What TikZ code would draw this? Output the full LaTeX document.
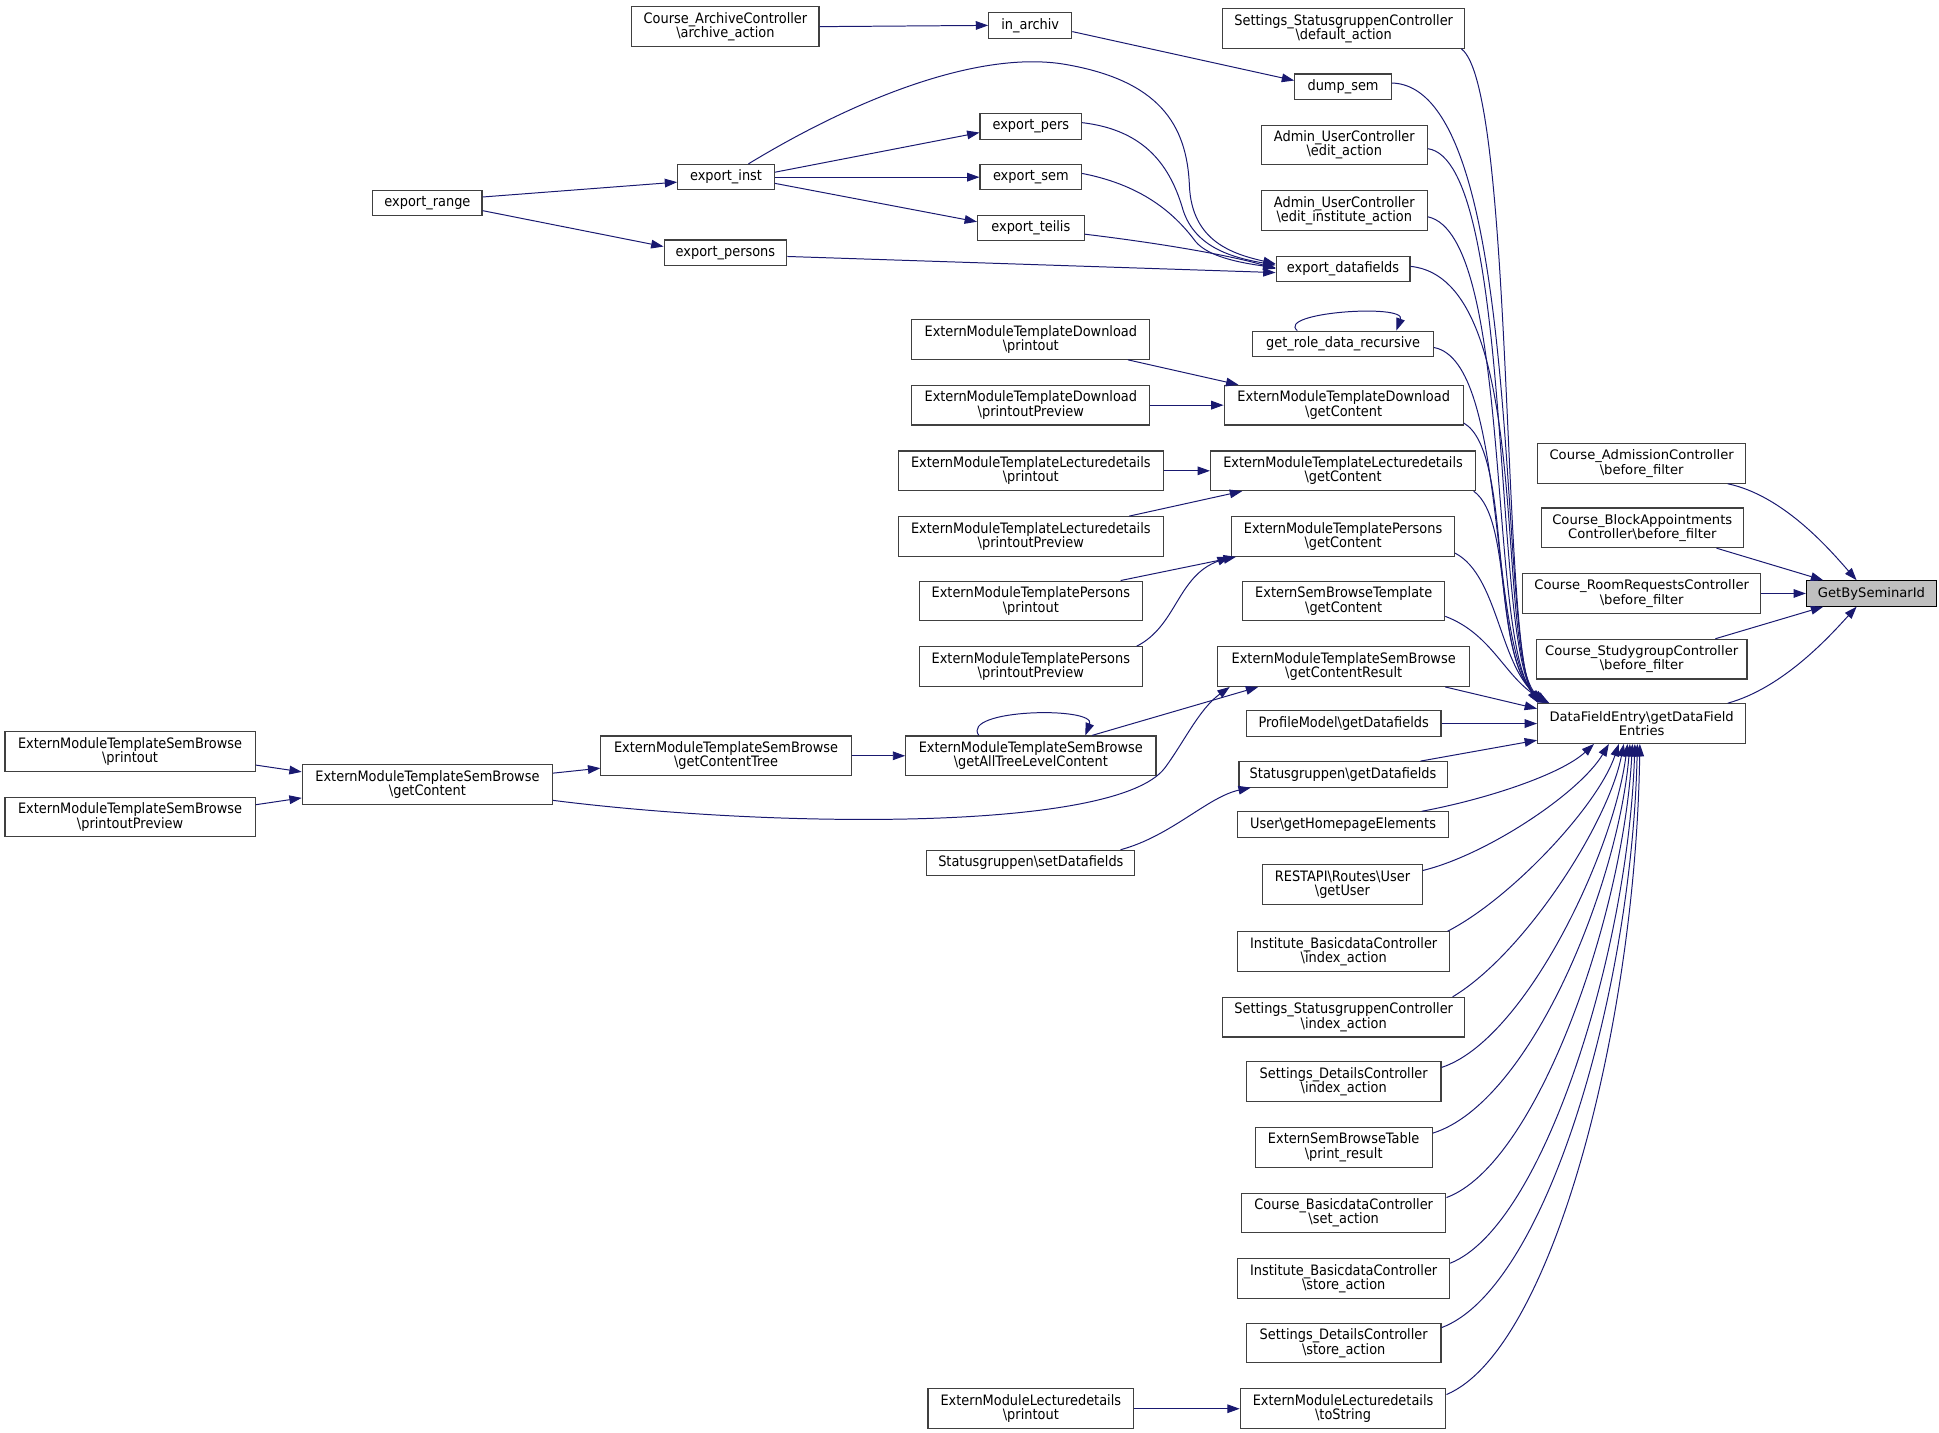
\documentclass[tikz,border=0pt]{standalone}
\usepackage{fontspec}
\newfontfamily\dvcond[FakeStretch=0.9]{DejaVu Sans}
\newfontfamily\dvsans{DejaVu Sans}
\usetikzlibrary{arrows.meta,calc}
\definecolor{edgeblue}{HTML}{191970}
\definecolor{boxgray}{HTML}{BFBFBF}
\tikzset{
every picture/.style={
line width=0.8pt
},
fn/.style={draw=black!75, line width=0.9pt, rectangle, inner sep=0pt, minimum height=20.5,
  align=center, font=\dvcond\fontsize{11.6}{11.6}\selectfont},
fn2/.style={fn, minimum height=32},
fnw/.style={fn2, font=\dvsans\fontsize{10.6}{11.6}\selectfont},
call/.style={draw=edgeblue, -{Triangle[length=10pt,width=7pt]}}
}

\begin{document}
\begin{tikzpicture}[x=1pt,y=-1pt]
  \useasboundingbox (0,0) rectangle (1565,1156);

  % callers, left part
  \node[fn2, minimum width=151] (archive) at (585.5,21.5) {Course\_ArchiveController\\\textbackslash archive\_action};
  \node[fn, minimum width=67] (inarchiv) at (831.5,20.5) {in\_archiv};
  \node[fn, minimum width=82] (exppers) at (832,102) {export\_pers};
  \node[fn, minimum width=78] (expinst) at (586,143) {export\_inst};
  \node[fn, minimum width=88] (exprange) at (345,164) {export\_range};
  \node[fn, minimum width=82] (expsem) at (832,143) {export\_sem};
  \node[fn, minimum width=86] (expteilis) at (832,184) {export\_teilis};
  \node[fn, minimum width=99] (exppersons) at (585.5,204) {export\_persons};
  \node[fn2, minimum width=192] (emtdpr) at (832,274) {ExternModuleTemplateDownload\\\textbackslash printout};
  \node[fn2, minimum width=192] (emtdpp) at (832,327) {ExternModuleTemplateDownload\\\textbackslash printoutPreview};
  \node[fn2, minimum width=214] (emtlpr) at (832,380) {ExternModuleTemplateLecturedetails\\\textbackslash printout};
  \node[fn2, minimum width=214] (emtlpp) at (832,433) {ExternModuleTemplateLecturedetails\\\textbackslash printoutPreview};
  \node[fn2, minimum width=180] (emtppr) at (832,485) {ExternModuleTemplatePersons\\\textbackslash printout};
  \node[fn2, minimum width=180] (emtppp) at (832,538) {ExternModuleTemplatePersons\\\textbackslash printoutPreview};
  \node[fn2, minimum width=202] (emtsball) at (832,610) {ExternModuleTemplateSemBrowse\\\textbackslash getAllTreeLevelContent};
  \node[fn2, minimum width=202] (emtsbtree) at (586,610) {ExternModuleTemplateSemBrowse\\\textbackslash getContentTree};
  \node[fn2, minimum width=202] (emtsbpr) at (105,606.5) {ExternModuleTemplateSemBrowse\\\textbackslash printout};
  \node[fn2, minimum width=202] (emtsbgc) at (345,633) {ExternModuleTemplateSemBrowse\\\textbackslash getContent};
  \node[fn2, minimum width=202] (emtsbpp) at (105,659.5) {ExternModuleTemplateSemBrowse\\\textbackslash printoutPreview};
  \node[fn, minimum width=168] (sgset) at (832,696.5) {Statusgruppen\textbackslash setDatafields};
  \node[fn2, minimum width=166] (emlpr) at (832,1137) {ExternModuleLecturedetails\\\textbackslash printout};

  % callers of getDataFieldEntries
  \node[fn2, minimum width=195] (sdefault) at (1084.5,23) {Settings\_StatusgruppenController\\\textbackslash default\_action};
  \node[fn, minimum width=78] (dumpsem) at (1084,70) {dump\_sem};
  \node[fn2, minimum width=134] (aedit) at (1085,117) {Admin\_UserController\\\textbackslash edit\_action};
  \node[fn2, minimum width=134] (aeditinst) at (1085,170) {Admin\_UserController\\\textbackslash edit\_institute\_action};
  \node[fn, minimum width=108] (exportdf) at (1084,217) {export\_datafields};
  \node[fn, minimum width=146] (getrole) at (1084,277.5) {get\_role\_data\_recursive};
  \node[fn2, minimum width=193] (emtdgc) at (1084.5,327) {ExternModuleTemplateDownload\\\textbackslash getContent};
  \node[fn2, minimum width=214] (emtlgc) at (1084,380) {ExternModuleTemplateLecturedetails\\\textbackslash getContent};
  \node[fn2, minimum width=180] (emtpgc) at (1084,433) {ExternModuleTemplatePersons\\\textbackslash getContent};
  \node[fn2, minimum width=163] (esbtgc) at (1084.5,485) {ExternSemBrowseTemplate\\\textbackslash getContent};
  \node[fn2, minimum width=203] (emtsbres) at (1084.5,538) {ExternModuleTemplateSemBrowse\\\textbackslash getContentResult};
  \node[fn, minimum width=157] (profile) at (1084.5,584) {ProfileModel\textbackslash getDatafields};
  \node[fn, minimum width=168] (sgget) at (1084,625) {Statusgruppen\textbackslash getDatafields};
  \node[fn, minimum width=170] (userhome) at (1084,665.5) {User\textbackslash getHomepageElements};
  \node[fn2, minimum width=129] (restapi) at (1083.5,714) {RESTAPI\textbackslash Routes\textbackslash User\\\textbackslash getUser};
  \node[fn2, minimum width=171] (instidx) at (1084.5,768) {Institute\_BasicdataController\\\textbackslash index\_action};
  \node[fn2, minimum width=195] (sidx) at (1084.5,821) {Settings\_StatusgruppenController\\\textbackslash index\_action};
  \node[fn2, minimum width=157] (sdidx) at (1084.5,873) {Settings\_DetailsController\\\textbackslash index\_action};
  \node[fn2, minimum width=143] (esbtable) at (1084.5,926) {ExternSemBrowseTable\\\textbackslash print\_result};
  \node[fn2, minimum width=165] (cbset) at (1084.5,979) {Course\_BasicdataController\\\textbackslash set\_action};
  \node[fn2, minimum width=171] (iststore) at (1084.5,1032) {Institute\_BasicdataController\\\textbackslash store\_action};
  \node[fn2, minimum width=157] (sdstore) at (1084.5,1084) {Settings\_DetailsController\\\textbackslash store\_action};
  \node[fn2, minimum width=166] (tostring) at (1084,1137) {ExternModuleLecturedetails\\\textbackslash toString};

  % right part
  \node[fnw, minimum width=168] (cadm) at (1325,374) {Course\_AdmissionController\\\textbackslash before\_filter};
  \node[fnw, minimum width=163] (cblock) at (1325.5,426) {Course\_BlockAppointments\\Controller\textbackslash before\_filter};
  \node[fnw, minimum width=192] (croom) at (1325,479) {Course\_RoomRequestsController\\\textbackslash before\_filter};
  \node[fnw, minimum width=170] (cstudy) at (1325,532) {Course\_StudygroupController\\\textbackslash before\_filter};
  \node[fnw, minimum width=168] (dfe) at (1325,584) {DataFieldEntry\textbackslash getDataField\\Entries};
  \node[fnw, minimum width=105, minimum height=20.5, fill=boxgray, draw=black] (gbs) at (1510.5,479) {GetBySeminarId};

  % left edges
  \draw[call] (archive.east) -- (inarchiv.west);
  \draw[call] ($(inarchiv.east)+(0,5)$) -- ($(dumpsem.west)+(0,-5)$);
  \draw[call] ($(exprange.east)+(0,-5)$) -- ($(expinst.west)+(0,4)$);
  \draw[call] ($(exprange.east)+(0,6)$) -- ($(exppersons.west)+(0,-5)$);
  \draw[call] ($(expinst.east)+(0,-4)$) -- ($(exppers.west)+(0,5)$);
  \draw[call] (expinst.east) -- (expsem.west);
  \draw[call] ($(expinst.east)+(0,5)$) -- ($(expteilis.west)+(0,-5)$);
  \draw[call] ($(expinst.north)+(18,0)$) .. controls (690,80) and (790,40) .. (860,52)
    .. controls (935,65) and (958,100) .. (960,150)
    .. controls (962,195) and (995,205) .. ($(exportdf.west)+(0,-4)$);
  \draw[call] ($(exppers.east)+(0,-3)$) .. controls (925,105) and (945,135) .. (955,170)
    .. controls (965,200) and (995,208) .. ($(exportdf.west)+(0,-3)$);
  \draw[call] ($(expsem.east)+(0,-3)$) .. controls (925,150) and (950,175) .. (965,195)
    .. controls (975,207) and (1000,212) .. ($(exportdf.west)+(0,-1)$);
  \draw[call] ($(expteilis.east)+(0,5)$) .. controls (950,198) and (1000,208) .. (exportdf.west);
  \draw[call] ($(exppersons.east)+(0,3)$) -- ($(exportdf.west)+(0,3)$);
  \draw[call] ($(getrole.north)+(-37,0)$) .. controls (1030,252) and (1135,245) .. ($(getrole.north)+(43,0)$);
  \draw[call] ($(emtdpr.south east)+(-18,0)$) -- ($(emtdgc.north west)+(12,0)$);
  \draw[call] (emtdpp.east) -- (emtdgc.west);
  \draw[call] (emtlpr.east) -- (emtlgc.west);
  \draw[call] ($(emtlpp.north east)+(-28,0)$) -- ($(emtlgc.south west)+(26,0)$);
  \draw[call] ($(emtppr.north east)+(-18,0)$) -- ($(emtpgc.south west)+(4,0)$);
  \draw[call] ($(emtppp.north east)+(-5,0)$) .. controls (950,505) and (950,465) .. ($(emtpgc.south west)+(-1,0)$);
  \draw[call] ($(emtsball.north)+(-42,0)$) .. controls (775,572) and (885,570) .. ($(emtsball.north)+(44,0)$);
  \draw[call] ($(emtsball.north east)+(-52,0)$) -- ($(emtsbres.south west)+(33,0)$);
  \draw[call] (emtsbtree.east) -- (emtsball.west);
  \draw[call] ($(emtsbgc.east)+(0,-9)$) -- ($(emtsbtree.west)+(0,10)$);
  \draw[call] ($(emtsbgc.east)+(0,13)$) .. controls (620,668) and (900,672) .. (940,620)
    .. controls (955,600) and (968,572) .. ($(emtsbres.south west)+(10,0)$);
  \draw[call] ($(emtsbpr.east)+(0,11)$) -- ($(emtsbgc.west)+(0,-10)$);
  \draw[call] ($(emtsbpp.east)+(0,-10)$) -- ($(emtsbgc.west)+(0,11)$);
  \draw[call] ($(sgset.north east)+(-12,0)$) .. controls (945,675) and (975,643) .. ($(sgget.south west)+(10,0)$);
  \draw[call] (emlpr.east) -- (tostring.west);

  % edges into getDataFieldEntries, from above
  \draw[call] ($(sdefault.south east)+(-3,0)$) .. controls (1222,70) and (1212,520) .. ($(dfe.north west)+(1,0)$);
  \draw[call] ($(dumpsem.east)+(0,-3)$) .. controls (1232,70) and (1208,515) .. ($(dfe.north west)+(2,0)$);
  \draw[call] ($(aedit.east)+(0,3)$) .. controls (1222,130) and (1204,515) .. ($(dfe.north west)+(3,0)$);
  \draw[call] ($(aeditinst.east)+(0,5)$) .. controls (1222,190) and (1200,520) .. ($(dfe.north west)+(4,0)$);
  \draw[call] ($(exportdf.east)+(0,-2)$) .. controls (1240,225) and (1205,520) .. ($(dfe.north west)+(5,0)$);
  \draw[call] ($(getrole.east)+(0,3)$) .. controls (1218,292) and (1200,525) .. ($(dfe.north west)+(6,0)$);
  \draw[call] ($(emtdgc.south east)+(0,-2)$) .. controls (1222,365) and (1200,530) .. ($(dfe.north west)+(7,0)$);
  \draw[call] ($(emtlgc.south east)+(-2,0)$) .. controls (1222,420) and (1205,535) .. ($(dfe.north west)+(8,0)$);
  \draw[call] ($(emtpgc.south east)+(0,-3)$) .. controls (1210,465) and (1210,540) .. ($(dfe.north west)+(9,0)$);
  \draw[call] ($(esbtgc.south east)+(0,-4)$) .. controls (1205,512) and (1215,548) .. ($(dfe.north west)+(10,0)$);
  \draw[call] ($(emtsbres.south east)+(-20,0)$) -- ($(dfe.west)+(0,-12)$);
  \draw[call] (profile.east) -- (dfe.west);
  \draw[call] ($(sgget.north east)+(-22,0)$) -- ($(dfe.south west)+(0,-3)$);

  % edges into getDataFieldEntries, from below
  \draw[call] ($(userhome.north east)+(-22,0)$) .. controls (1200,645) and (1260,625) .. ($(dfe.south west)+(46,0)$);
  \draw[call] ($(restapi.north east)+(0,5)$) .. controls (1200,690) and (1275,640) .. ($(dfe.south west)+(58,0)$);
  \draw[call] ($(instidx.north east)+(-2,0)$) .. controls (1220,725) and (1290,650) .. ($(dfe.south west)+(66,0)$);
  \draw[call] ($(sidx.north east)+(-10,0)$) .. controls (1230,770) and (1298,665) .. ($(dfe.south west)+(70,0)$);
  \draw[call] ($(sdidx.north east)+(0,5)$) .. controls (1230,840) and (1302,690) .. ($(dfe.south west)+(73,0)$);
  \draw[call] ($(esbtable.north east)+(0,5)$) .. controls (1235,890) and (1306,715) .. ($(dfe.south west)+(75,0)$);
  \draw[call] ($(cbset.north east)+(0,4)$) .. controls (1240,940) and (1310,740) .. ($(dfe.south west)+(77,0)$);
  \draw[call] ($(iststore.north east)+(0,4)$) .. controls (1245,990) and (1314,770) .. ($(dfe.south west)+(79,0)$);
  \draw[call] ($(sdstore.north east)+(0,4)$) .. controls (1248,1040) and (1317,800) .. ($(dfe.south west)+(81,0)$);
  \draw[call] ($(tostring.north east)+(0,5)$) .. controls (1252,1090) and (1320,830) .. ($(dfe.south west)+(83,0)$);

  % edges into GetBySeminarId
  \draw[call] ($(cadm.south east)+(-15,0)$) .. controls (1440,400) and (1478,445) .. ($(gbs.north)+(-12,0)$);
  \draw[call] ($(cblock.south east)+(-22,0)$) -- ($(gbs.north west)+(14,0)$);
  \draw[call] (croom.east) -- (gbs.west);
  \draw[call] ($(cstudy.north east)+(-26,0)$) -- ($(gbs.south west)+(14,0)$);
  \draw[call] ($(dfe.north east)+(-15,0)$) .. controls (1440,555) and (1478,512) .. ($(gbs.south)+(-12,0)$);
\end{tikzpicture}
\end{document}
